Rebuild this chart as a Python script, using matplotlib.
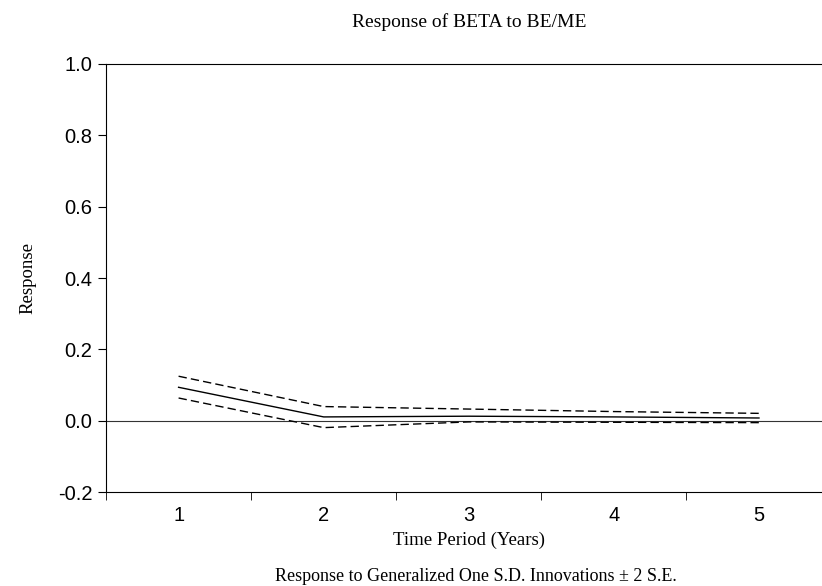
import matplotlib.pyplot as plt
import matplotlib.transforms as mtransforms
import numpy as np

# impulse response of BETA to a BE/ME shock, with +/- 2 S.E. bands
periods = np.array([1, 2, 3, 4, 5])
response = np.array([0.094, 0.011, 0.013, 0.011, 0.008])
upper = np.array([0.125, 0.040, 0.033, 0.026, 0.021])
lower = np.array([0.064, -0.019, -0.003, -0.004, -0.005])

fig = plt.figure(figsize=(8.22, 5.86), dpi=100)
ax = fig.add_axes([0.129, 0.160, 0.8826, 0.731])

ax.axhline(0, color="#333333", linewidth=0.8)
ax.plot(periods, response, color="black", linewidth=1.0)
ax.plot(periods, upper, color="black", linewidth=1.0, linestyle=(0, (6, 3)))
ax.plot(periods, lower, color="black", linewidth=1.0, linestyle=(0, (6, 3)))

ax.set_xlim(0.5, 5.5)
ax.set_ylim(-0.2, 1.0)

ax.set_xticks(periods)
ax.set_xticks(np.arange(0.5, 6.0, 1.0), minor=True)
ax.tick_params(axis="x", which="major", length=0, pad=10, labelsize=14.5)
ax.tick_params(axis="x", which="minor", length=6, direction="out")
ax.set_yticks([-0.2, 0.0, 0.2, 0.4, 0.6, 0.8, 1.0])
ax.set_yticklabels(["-0.2", "0.0", "0.2", "0.4", "0.6", "0.8", "1.0"])
ax.tick_params(axis="y", length=6, direction="out", labelsize=14.5, pad=4)
for lbl in ax.get_xticklabels() + ax.get_yticklabels():
    lbl.set_family("Liberation Sans")

ax.spines["right"].set_visible(False)

serif = "Liberation Serif"
ax.set_xlabel("Time Period (Years)", family=serif, fontsize=13.5, labelpad=5)
ax.set_ylabel("Response", family=serif, fontsize=13.5, labelpad=15)

# centred on the plot area horizontally, placed in figure units vertically
trans = mtransforms.blended_transform_factory(ax.transAxes, fig.transFigure)
ax.text(0.5, 0.962, "Response of BETA to BE/ME", family=serif,
        fontsize=14, ha="center", va="center", transform=trans)
ax.text(0.51, 0.017, "Response to Generalized One S.D. Innovations \u00b1 2 S.E.",
        family=serif, fontsize=13, ha="center", va="center", transform=trans)

fig.savefig("out.png", dpi=100)
